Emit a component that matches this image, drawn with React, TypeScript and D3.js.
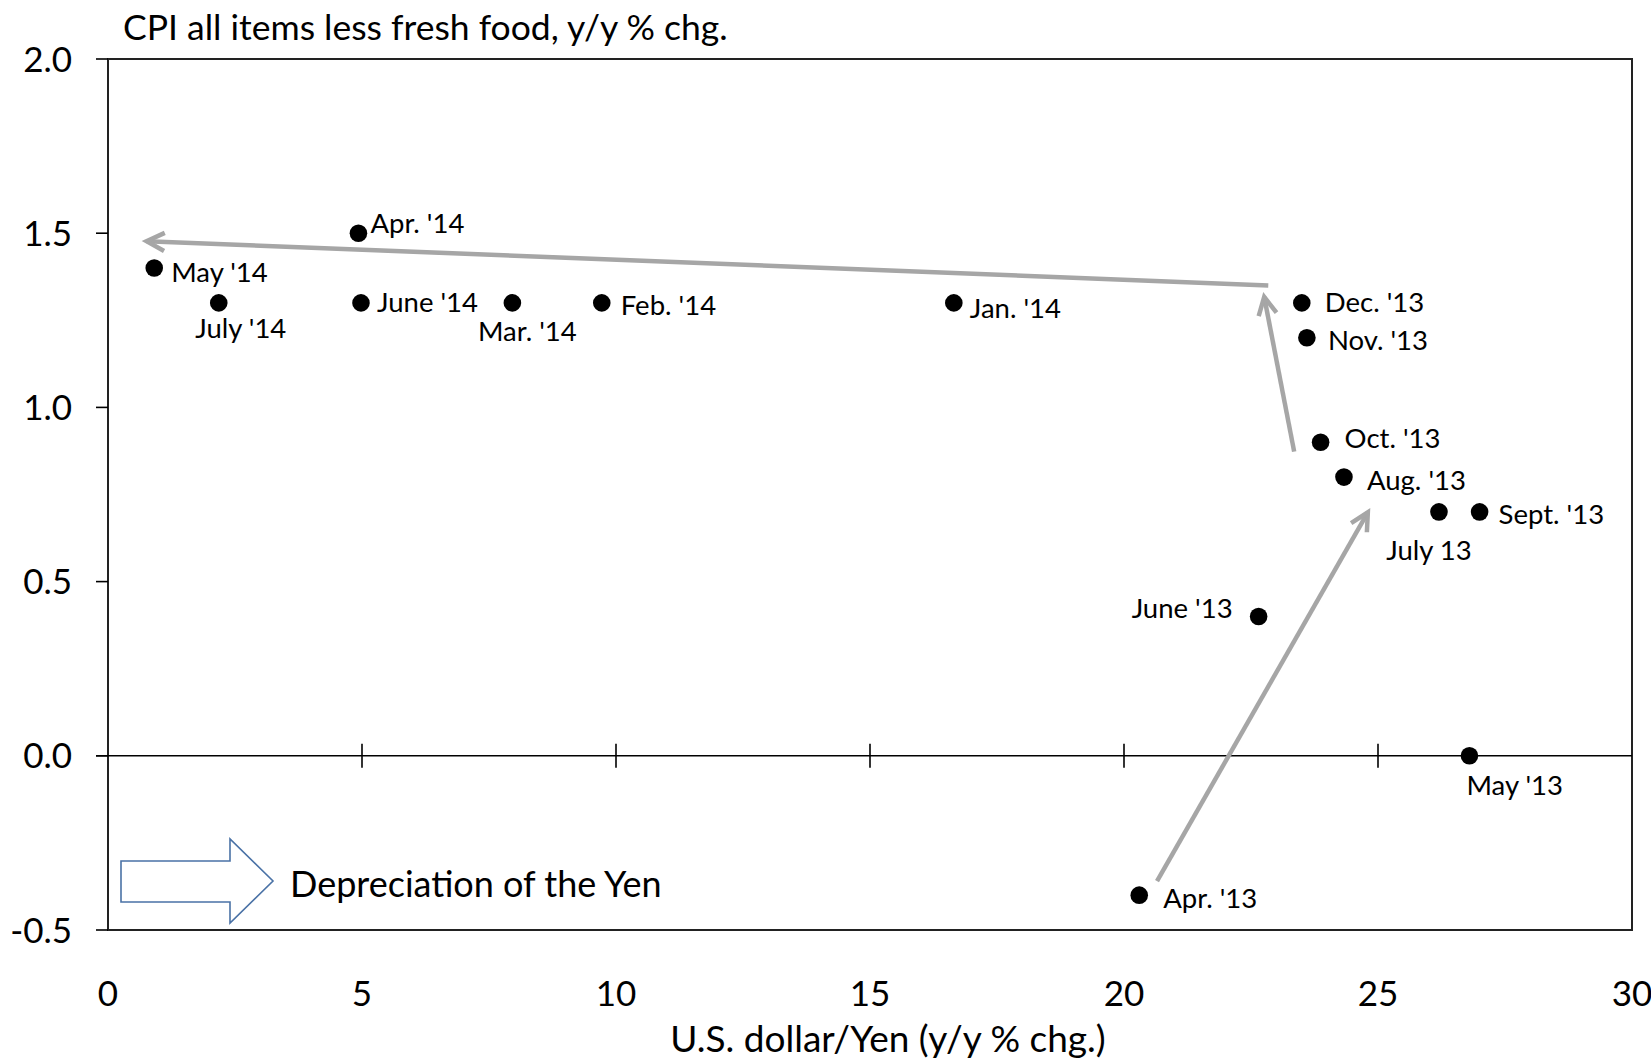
import React from "react";
import * as d3 from "d3";

// ---- data ----
const months = [
  "Apr. '13", "May '13", "June '13", "July 13", "Aug. '13", "Sept. '13", "Oct. '13", "Nov. '13",
  "Dec. '13", "Jan. '14", "Feb. '14", "Mar. '14", "Apr. '14", "May '14", "June '14", "July '14",
];
const yenChange = [20.3, 26.8, 22.65, 26.2, 24.33, 27.0, 23.87, 23.6, 23.5, 16.65, 9.72, 7.96, 4.93, 0.91, 4.98, 2.18];
const cpiChange = [-0.4, 0.0, 0.4, 0.7, 0.8, 0.7, 0.9, 1.2, 1.3, 1.3, 1.3, 1.3, 1.5, 1.4, 1.3, 1.3];

const xTicks = [0, 5, 10, 15, 20, 25, 30];
const yTicks = [-0.5, 0.0, 0.5, 1.0, 1.5, 2.0];

// trend arrows (data coordinates)
const arrowFromX = [20.65, 23.35, 22.84];
const arrowFromY = [-0.36, 0.873, 1.35];
const arrowToX = [24.8, 22.76, 0.76];
const arrowToY = [0.699, 1.317, 1.477];

// label placement (pixels relative to the point) and anchor
const labelDx = [24, -3, -26, -10, 23, 19, 24, 21, 23, 16, 19, 15, 12, 17, 16, 22];
const labelDy = [13, 39, 2, 48, 13, 12, 6, 12, 9, 15, 12, 38, 0, 14, 9, 35];
const labelAnchor = [
  "start", "start", "end", "middle", "start", "start", "start", "start",
  "start", "start", "start", "middle", "start", "start", "start", "middle",
];

const W = 1651;
const H = 1063;
const left = 108;
const right = 1632;
const top = 59;
const bottom = 930;
const FONT = "Lato, 'Open Sans', sans-serif";

export default function App() {
  const x = d3.scaleLinear().domain([0, 30]).range([left, right]);
  const y = d3.scaleLinear().domain([-0.5, 2]).range([bottom, top]);
  const y0 = y(0);

  const head = (x1: number, y1: number, x2: number, y2: number) => {
    const ang = Math.atan2(y1 - y2, x1 - x2);
    const L = 20;
    const a = (27 * Math.PI) / 180;
    const p1 = [x2 + L * Math.cos(ang + a), y2 + L * Math.sin(ang + a)];
    const p2 = [x2 + L * Math.cos(ang - a), y2 + L * Math.sin(ang - a)];
    return `M${p1[0]},${p1[1]}L${x2},${y2}L${p2[0]},${p2[1]}`;
  };

  // block arrow annotation, relative to plot's bottom-left corner
  const bx = left;
  const by = bottom;
  const blockPath = [
    [bx + 13, by - 69],
    [bx + 122, by - 69],
    [bx + 122, by - 91],
    [bx + 165, by - 49],
    [bx + 122, by - 7],
    [bx + 122, by - 28],
    [bx + 13, by - 28],
  ];

  return (
    <svg
      width={W}
      height={H}
      style={{ position: "absolute", left: 0, top: 0, background: "#fff" }}
      fontFamily={FONT}
    >
      <rect x={0} y={0} width={W} height={H} fill="#fff" />
      {/* plot frame */}
      <rect x={left} y={top} width={right - left} height={bottom - top} fill="none" stroke="#222" strokeWidth={2} />
      {/* zero line */}
      <line x1={left - 12} x2={right} y1={y0} y2={y0} stroke="#000" strokeWidth={1.6} />

      {/* y ticks */}
      {yTicks.map((t) => (
        <g key={"y" + t}>
          <line x1={left - 12} x2={left} y1={y(t)} y2={y(t)} stroke="#000" strokeWidth={1.6} />
          <text x={72} y={y(t)} dy="0.36em" textAnchor="end" fontSize={35} fill="#000">
            {t.toFixed(1)}
          </text>
        </g>
      ))}

      {/* x ticks crossing the zero line */}
      {xTicks.map((t) => (
        <g key={"x" + t}>
          {t > 0 && t < 30 && (
            <line x1={x(t)} x2={x(t)} y1={y0 - 12} y2={y0 + 12} stroke="#000" strokeWidth={1.6} />
          )}
          <text x={x(t)} y={1006} textAnchor="middle" fontSize={35} fill="#000">
            {t}
          </text>
        </g>
      ))}

      {/* trend arrows */}
      {arrowFromX.map((_, i) => {
        const x1 = x(arrowFromX[i]);
        const y1 = y(arrowFromY[i]);
        const x2 = x(arrowToX[i]);
        const y2 = y(arrowToY[i]);
        return (
          <g key={"a" + i} stroke="#a6a6a6" strokeWidth={4.5} fill="none">
            <line x1={x1} y1={y1} x2={x2} y2={y2} />
            <path d={head(x1, y1, x2, y2)} strokeLinejoin="miter" />
          </g>
        );
      })}

      {/* points */}
      {months.map((m, i) => (
        <circle key={"p" + m} cx={x(yenChange[i])} cy={y(cpiChange[i])} r={8.8} fill="#000" />
      ))}
      {months.map((m, i) => (
        <text
          key={"l" + m}
          x={x(yenChange[i]) + labelDx[i]}
          y={y(cpiChange[i]) + labelDy[i]}
          textAnchor={labelAnchor[i]}
          fontSize={27.5}
          fill="#000"
        >
          {m}
        </text>
      ))}

      {/* block arrow annotation */}
      <path
        d={"M" + blockPath.map((p) => p.join(",")).join("L") + "Z"}
        fill="#fff"
        stroke="#4a72a6"
        strokeWidth={1.6}
      />
      <text x={290} y={897} fontSize={36} fill="#000">
        Depreciation of the Yen
      </text>

      {/* titles */}
      <text x={123} y={40} fontSize={35.5} fill="#000">
        CPI all items less fresh food, y/y % chg.
      </text>
      <text x={888} y={1052} textAnchor="middle" fontSize={37} fill="#000">
        U.S. dollar/Yen (y/y % chg.)
      </text>
    </svg>
  );
}
